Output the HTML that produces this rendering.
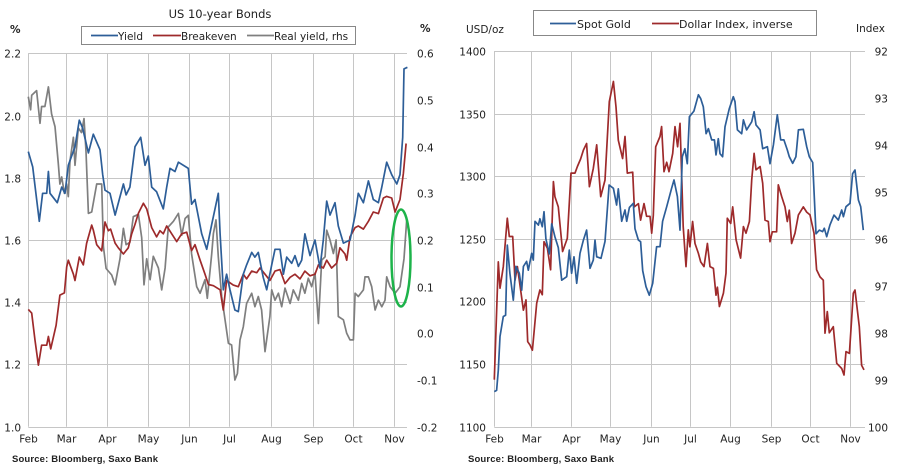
<!DOCTYPE html>
<html><head><meta charset="utf-8"><style>
html,body{margin:0;padding:0;background:#fff;}
svg{display:block;font-family:"DejaVu Sans","Liberation Sans",sans-serif;}
</style></head><body>
<svg id="svg" width="900" height="469" viewBox="0 0 900 469" xmlns="http://www.w3.org/2000/svg"></svg>
<script>
// ---- data (x = days since Feb 1) ----
const months = ["Feb","Mar","Apr","May","Jun","Jul","Aug","Sep","Oct","Nov"];
const monthDays = [0,28,59,89,120,150,181,212,242,273];
const leftTicks = [1.0,1.2,1.4,1.6,1.8,2.0,2.2];
const leftTickLabels = ["1.0","1.2","1.4","1.6","1.8","2.0","2.2"];
const rhsTicks = [-0.2,-0.1,0.0,0.1,0.2,0.3,0.4,0.5,0.6];
const rhsTickLabels = ["-0.2","-0.1","0.0","0.1","0.2","0.3","0.4","0.5","0.6"];
const goldTicks = [1100,1150,1200,1250,1300,1350,1400];
const idxTicks = [92,93,94,95,96,97,98,99,100];

const yieldDays = [0,3.3,8.2,10.7,13.7,15,16.2,21.6,24.9,27.4,29.8,34.8,38,40.5,44.8,48.5,53.5,55.5,57.2,60.9,64.7,70.9,72.9,75.8,79.6,83.8,87,89.5,92,95.7,100.7,103.2,105.7,109.4,111.9,119.3,121.8,124.3,129.3,133,136.8,139.2,141.7,143,145.4,147.9,150.4,154.1,156.6,160.3,162.8,166.6,169,171.5,175.2,177.8,181.5,184,187.7,190.2,192.7,196.4,198.9,201.4,203.9,206.3,210.1,213.8,217.5,220,222.5,225,228.7,231.2,235,240,243.7,246.1,249.9,253.6,257.3,261.1,263.6,267.3,271,274.8,277.2,279.2,280.2,282.7];
const yieldVals = [1.884,1.835,1.66,1.75,1.75,1.82,1.75,1.72,1.77,1.75,1.84,1.90,1.985,1.96,1.88,1.94,1.89,1.81,1.76,1.75,1.68,1.78,1.745,1.77,1.90,1.93,1.84,1.87,1.77,1.755,1.70,1.77,1.83,1.82,1.85,1.83,1.715,1.73,1.62,1.57,1.65,1.70,1.75,1.62,1.44,1.49,1.44,1.375,1.37,1.49,1.52,1.56,1.545,1.56,1.48,1.44,1.52,1.57,1.57,1.49,1.545,1.525,1.55,1.515,1.535,1.62,1.55,1.60,1.51,1.60,1.725,1.68,1.72,1.645,1.59,1.60,1.68,1.75,1.72,1.79,1.73,1.72,1.77,1.85,1.81,1.78,1.81,1.93,2.15,2.155];

const beDays = [0,2.5,5,7.5,9.9,13.7,15,16.7,20.7,23.6,26.9,28.6,29.8,33.6,34.8,38,41,43.5,47.3,48.5,51,54.7,57.2,59.7,61.4,64.7,67.1,70.9,74.6,77.1,79.6,82.1,85.8,88.3,92,95.7,98.2,100.7,103.2,106.9,110.7,114.4,118.1,121.8,124.3,128.1,131.8,134.3,138,143,145.4,147.9,152.9,156.6,160.3,162.8,166.6,170.3,172.8,176.5,180.2,184,187.7,191.4,195.2,198.9,202.6,206.3,210.1,213.8,216.3,220,222.5,226.2,230,232.4,236.2,237.4,239.9,243.7,246.1,249.9,253.6,257.3,261.1,264.8,267.3,271,273.5,277.2,279.7,281.7];
const beVals = [1.377,1.365,1.278,1.198,1.262,1.262,1.29,1.25,1.326,1.423,1.43,1.514,1.535,1.49,1.47,1.545,1.52,1.589,1.648,1.632,1.585,1.565,1.658,1.63,1.635,1.59,1.575,1.555,1.575,1.62,1.65,1.686,1.718,1.70,1.64,1.61,1.63,1.62,1.645,1.62,1.595,1.62,1.625,1.566,1.585,1.535,1.49,1.457,1.453,1.44,1.375,1.47,1.455,1.45,1.49,1.475,1.50,1.495,1.51,1.49,1.47,1.50,1.505,1.46,1.48,1.49,1.475,1.50,1.485,1.49,1.52,1.51,1.535,1.51,1.525,1.575,1.555,1.535,1.61,1.64,1.645,1.635,1.66,1.69,1.685,1.735,1.74,1.735,1.69,1.73,1.815,1.91];

const ryDays = [0,1.7,2.5,6.2,8.7,9.9,12.4,15,17.4,19.9,22.4,23.6,24.9,26.9,28.6,29.8,31.1,33.6,34.8,37.3,39.7,41.5,43,44.8,47.3,51,54.7,56,58,62.2,64.7,68.4,70.9,72.9,75.8,78.3,82.1,84.6,86.3,88.3,90.8,93.2,97,99.5,102,104.4,108.2,111.9,114.4,116.9,119.3,121.8,125.6,128.1,131.8,133.5,136.8,138,140,141.7,144.2,149.2,151.6,154.1,155.9,157.9,160.3,162.8,166.6,169,171.5,174,176.5,180.2,181.5,184,186.5,189,191.4,195.2,197.6,201.4,203.9,206.3,208.8,211.3,213.8,216.3,218.8,221.3,222.5,225,227.5,229.5,231.2,235,237.4,239.9,242.4,243.7,246.1,249.9,251.1,253.6,256.1,258.6,261.1,263.6,266,267.3,269.8,273.5,277.2,280.2,282.2];
const ryVals = [0.507,0.479,0.51,0.52,0.45,0.486,0.486,0.528,0.47,0.443,0.364,0.32,0.335,0.30,0.32,0.293,0.37,0.42,0.36,0.44,0.43,0.46,0.39,0.257,0.26,0.32,0.32,0.186,0.139,0.125,0.104,0.16,0.225,0.19,0.195,0.25,0.255,0.205,0.104,0.16,0.115,0.165,0.14,0.093,0.14,0.228,0.24,0.257,0.21,0.246,0.253,0.17,0.10,0.086,0.115,0.075,0.17,0.214,0.243,0.164,0.079,-0.021,-0.025,-0.1,-0.086,-0.014,0.014,0.064,0.086,0.057,0.079,0.05,-0.039,0.036,0.093,0.071,0.086,0.057,0.097,0.064,0.093,0.071,0.107,0.086,0.118,0.1,0.129,0.021,0.157,0.164,0.221,0.2,0.171,0.2,0.036,0.029,0.0,-0.014,-0.014,0.086,0.079,0.093,0.121,0.121,0.1,0.05,0.071,0.057,0.071,0.121,0.1,0.086,0.1,0.16,0.243];

const goldDays = [0,1.8,3.1,4.4,6.9,8.7,10,12,14.6,16.6,19.2,21,22.3,24.8,26.1,28.7,29.9,31.2,33.8,35,36.8,38.1,39.6,42.2,44,46.5,49.1,51.7,55.5,57.5,59.3,61.1,63.2,65.7,68.3,70.8,73.4,75.9,77.2,78.5,81.8,84.9,88,91.3,93.8,95.1,97.7,100.2,101.5,103.6,106.6,107.9,110.5,112.2,113.8,116.3,118.9,121.5,124.5,127.1,129.1,132.2,136,137.8,140.4,142.4,144.2,146.2,148,149.6,153.1,156.5,158.3,160.3,162.4,164.2,166.7,168.8,170,171.8,173.1,175.1,176.9,180.2,183.3,184.6,186.4,189.7,191,193.5,197.4,199.2,200.7,203.8,205.8,209.4,211.4,214,217,219.6,222.1,224.7,226.2,228.8,231.3,233.2,237,239.6,241.6,244.2,246.7,249.3,251.8,253.1,254.9,257.4,260.5,263.8,266.4,267.7,269.7,272.8,274.8,276.6,279.2,281,283];
const goldVals = [1128,1129,1145,1172,1188,1189,1245,1222.5,1201,1228,1222.5,1209,1228,1232,1225,1238.5,1233,1264,1261,1266,1259.7,1271.7,1250,1238,1262,1251.7,1243,1217,1219.8,1241,1222.5,1235.7,1214.5,1238.5,1249,1257,1226.5,1233,1249,1235.7,1234.5,1248,1293,1290.4,1277,1290,1264,1273,1264,1275,1278.4,1258,1249,1247.7,1224.6,1211.8,1205,1214.5,1243.7,1243.7,1264,1275.7,1290.4,1297,1283.7,1257,1315.6,1322,1310,1347.5,1352,1365,1362,1355.5,1334,1338,1329,1329,1317,1330,1318,1315.6,1339.5,1354,1363.5,1359.5,1337,1334,1345,1337,1343.5,1351.5,1341,1337,1322,1323.6,1310,1325,1349,1329,1329,1321,1315.6,1310.3,1315.6,1337,1337.5,1323.6,1315.6,1311,1254,1257,1255.8,1258.5,1251.7,1261,1269,1265,1273,1267.7,1275.7,1278.4,1302,1305,1281,1275.7,1257];

const dxyDays = [0,3.1,4.4,6.9,10,11.5,14.1,15.9,17.7,19.2,22.3,24.3,25.6,27.4,29.2,32.5,35,36.8,38.1,40.7,43.2,45.3,46.5,49.1,52.4,56,58.8,61.9,63.7,66.2,68.3,70.8,72.9,75.9,78.5,81.6,84.9,88.2,91.3,93.3,95.1,98.4,100.2,102,106.1,107.4,110.5,112.2,114.8,116.8,119.4,120.7,121.9,123.8,127.1,128.3,130.1,132.2,134,136.8,138.6,140.6,142.4,143.6,144.9,147,148.8,150,152.1,153.9,156.5,158.3,160.8,163.4,165.4,168,170,171.1,172.6,175.7,177.7,178.7,181.3,182.8,185.4,188.9,191,193,195.6,197.4,199.2,200.7,203.8,205.8,207.6,210.1,211.4,213.2,216.5,217.8,220.4,222.9,224.7,226.2,228,230.6,233.2,237,239.6,242.1,245.2,247.2,249.8,252.3,253.6,255.4,256.9,260,262.6,266.4,268.2,269.7,272.3,275.3,276.6,279.9,281.7,283.5];
const dxyVals = [99.0,96.49,97.05,96.59,95.56,95.95,95.95,96.88,96.59,96.88,97.52,97.30,98.19,98.26,98.37,97.37,97.09,97.19,96.06,96.2,96.66,94.78,95.10,95.32,96.27,95.99,94.60,94.60,94.46,94.3,94.11,93.97,94.89,94.50,94.0,95.10,94.75,93.08,92.65,93.19,93.90,94.29,93.82,94.60,94.58,95.32,95.25,95.6,95.25,95.52,95.52,95.88,95.5,94.04,93.82,93.61,94.57,94.37,94.57,94.18,93.61,94.04,93.54,94.6,95.74,96.59,95.81,96.17,95.63,96.1,96.31,96.49,96.59,96.1,96.59,96.63,97.2,97.03,97.44,97.16,96.73,95.56,95.67,95.32,96.02,96.41,95.74,95.88,95.63,94.75,94.18,94.53,94.46,94.82,95.6,95.63,96.06,95.85,95.85,94.85,95.1,95.32,95.63,95.39,96.1,95.88,95.49,95.32,95.43,95.49,95.88,96.66,96.81,96.88,98.01,97.55,98.0,97.87,98.65,98.76,98.9,98.4,98.44,97.16,97.09,97.87,98.69,98.79];

const NS="http://www.w3.org/2000/svg";
const svg=document.getElementById('svg');
function mk(tag,attrs,parent){const e=document.createElementNS(NS,tag);for(const k in attrs)e.setAttribute(k,attrs[k]);(parent||svg).appendChild(e);return e;}
function txt(s,x,y,anchor,size,parent,weight){const t=mk('text',{x:x,y:y,'text-anchor':anchor||'start','font-size':size||10.5,fill:'#222'},parent);if(weight)t.setAttribute('font-weight',weight);t.textContent=s;return t;}

function chart(cfg){
  const g=mk('g',{});
  
  
  const X=d=>cfg.x0+d*cfg.pxDay;
  const YL=v=>cfg.yTop+(cfg.lMax-v)/(cfg.lMax-cfg.lMin)*(cfg.yBot-cfg.yTop);
  const YR=v=>cfg.yTop+(cfg.rFlip?(v-cfg.rMin):(cfg.rMax-v))/(cfg.rMax-cfg.rMin)*(cfg.yBot-cfg.yTop);
  const grid=mk('g',{stroke:'#c6c6c6','stroke-width':1,fill:'none'},g);
  
  
  cfg.lTicks.forEach((v,i)=>{
    const y=Math.round(YL(v))+0.5;
    mk('line',{x1:cfg.x0,x2:cfg.xEnd+8,y1:y,y2:y},grid);
    const t=txt(cfg.lLabels[i],cfg.lLabX,y+4,'end',10.5,g);
    
    
  });
  cfg.rTicks.forEach((v,i)=>{
    const y=Math.round(YR(v))+0.5;
    const t=txt(cfg.rLabels[i],cfg.rLabX,y+4,cfg.rAnchor,10.5,g);
    
    
  });
  monthDays.forEach((d,i)=>{
    const x=Math.round(X(d))+0.5;
    mk('line',{x1:x,x2:x,y1:cfg.yTop,y2:cfg.yBot},grid);
    const t=txt(months[i],x,cfg.yBot+16,'middle',10.5,g);
    
    
  });
  cfg.series.forEach(s=>{
    const Y=s.axis==='r'?YR:YL;
    const pts=s.days.map((d,i)=>X(d).toFixed(1)+','+Y(s.vals[i]).toFixed(1)).join(' ');
    const p=mk('polyline',{points:pts,fill:'none',stroke:s.color,'stroke-width':1.7,'stroke-linejoin':'round'},g);
    
    
  });
  return g;
}

chart({name:'us-10y-bonds-chart',x0:28.3,pxDay:1.341,xEnd:399,yTop:53.3,yBot:426.7,lMin:1.0,lMax:2.2,rMin:-0.2,rMax:0.6,
  lTicks:leftTicks,lLabels:leftTickLabels,rTicks:rhsTicks,rLabels:rhsTickLabels,lLabX:21,rLabX:417,rAnchor:'start',
  series:[{name:'real-yield-line',days:ryDays,vals:ryVals,axis:'r',color:'#7f7f7f'},
          {name:'breakeven-line',days:beDays,vals:beVals,axis:'l',color:'#9e2a2b'},
          {name:'yield-line',days:yieldDays,vals:yieldVals,axis:'l',color:'#2d5e98'}]});

chart({name:'gold-dollar-chart',x0:494.3,pxDay:1.304,xEnd:857,yTop:51,yBot:426.7,lMin:1100,lMax:1400,rMin:92,rMax:100,rFlip:true,
  lTicks:goldTicks,lLabels:goldTicks.map(String),rTicks:idxTicks,rLabels:idxTicks.map(String),lLabX:486,rLabX:888,rAnchor:'end',
  series:[{name:'dollar-index-line',days:dxyDays,vals:dxyVals,axis:'r',color:'#9e2a2b'},
          {name:'spot-gold-line',days:goldDays,vals:goldVals,axis:'l',color:'#2d5e98'}]});
</script>
<svg width="900" height="469" style="position:absolute;left:0;top:0" xmlns="http://www.w3.org/2000/svg">
  <g font-family="DejaVu Sans, Liberation Sans, sans-serif" fill="#222">
    <text x="220" y="18" text-anchor="middle" font-size="11.5">US 10-year Bonds</text>
    <text x="10" y="33" font-size="10.5" font-weight="bold">%</text>
    <text x="420" y="32" font-size="10.5" font-weight="bold">%</text>
    <g>
      <rect x="81.5" y="26.5" width="274" height="18" fill="#fff" stroke="#888"/>
      <line x1="91" x2="118" y1="35.5" y2="35.5" stroke="#2d5e98" stroke-width="1.8"/>
      <text x="118" y="40" font-size="10.5">Yield</text>
      <line x1="153" x2="181" y1="35.5" y2="35.5" stroke="#9e2a2b" stroke-width="1.8"/>
      <text x="181" y="40" font-size="10.5">Breakeven</text>
      <line x1="247" x2="274" y1="35.5" y2="35.5" stroke="#7f7f7f" stroke-width="1.8"/>
      <text x="274" y="40" font-size="10.5">Real yield, rhs</text>
    </g>
    <ellipse cx="401" cy="258" rx="9.5" ry="48.5" fill="none" stroke="#1db34a" stroke-width="2.5"/>
    <text x="12" y="462" font-size="9.5" font-weight="bold" font-family="Liberation Sans, sans-serif" textLength="146">Source: Bloomberg, Saxo Bank</text>

    <text x="466" y="33" font-size="10.5">USD/oz</text>
    <text x="856" y="32" font-size="10.5">Index</text>
    <g>
      <rect x="533.5" y="10.5" width="283" height="25" fill="#fff" stroke="#888"/>
      <line x1="550" x2="576" y1="23.5" y2="23.5" stroke="#2d5e98" stroke-width="1.8"/>
      <text x="577" y="28" font-size="11">Spot Gold</text>
      <line x1="652" x2="679" y1="23.5" y2="23.5" stroke="#9e2a2b" stroke-width="1.8"/>
      <text x="679" y="28" font-size="11">Dollar Index, inverse</text>
    </g>
    <text x="468" y="462" font-size="9.5" font-weight="bold" font-family="Liberation Sans, sans-serif" textLength="146">Source: Bloomberg, Saxo Bank</text>
  </g>
</svg>
</body></html>
